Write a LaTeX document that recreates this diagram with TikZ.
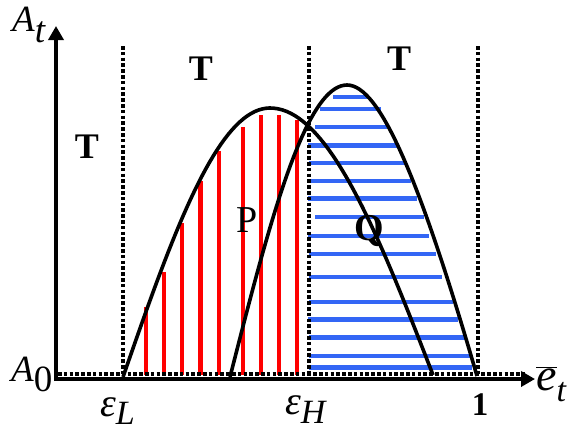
\documentclass[tikz,border=0pt]{standalone}
\usepackage{fontspec}
\setmainfont{Liberation Serif}
\usetikzlibrary{arrows.meta}
\definecolor{hred}{RGB}{255,0,0}
\definecolor{hblue}{RGB}{51,102,245}
\begin{document}
\begin{tikzpicture}[x=1pt,y=-1pt,
  axisline/.style={line width=4.2pt,-{Triangle[length=14pt,width=15pt]}},
  dotline/.style={line width=4pt,dash pattern=on 3.6pt off 2.2pt},
  curveline/.style={line width=3.6pt},
  redbar/.style={hred},
  bluebar/.style={hblue},
  lbl/.style={inner sep=0pt},
  mlbl/.style={inner sep=0pt,font=\fontsize{37}{37}\selectfont\itshape}]
\useasboundingbox (0,0) rectangle (569,432);
% coordinates
\coordinate (O) at (56,379);
\coordinate (ytip) at (56,26);
\coordinate (xtip) at (535,379);
% red bars
\foreach \x/\t/\w in {146/307/4.6,164.3/272/3.8,182.3/223/3.8,200.7/181/4.6,219/151/4.6,242.7/127/3.8,261/115/4.6,279/115/4.6,297/120/4.6}
  \draw[redbar,line width=\w pt] (\x,375) -- (\x,\t);
% blue bars
\foreach \y/\a/\b/\w in {96.7/333/369/3.8,109/320/381/4.4,126.7/315/387/4.4,145.3/308/399/4.4,163/309/406/4.4,180.7/308/411/4.4,198.3/308/417/4.4,217/315/424/3.8,235.7/308/429/4.4,253.7/309/436/4.4,277.3/309/442/3.8,301.7/309/453/4.4,319.3/308/458/4.4,337.3/309/466/4.4,355.7/309/472/4.4,367.3/309/472/4.4}
  \draw[bluebar,line width=\w pt] (\a,\y) -- (\b,\y);
% curve P
\draw[curveline] plot[domain=0:90,samples=40] ({123+147*\x/90},{377-269*sin(\x)})
  -- plot[domain=0:90,samples=40] ({270+163*\x/90},{375-267*cos(\x)});
% curve Q
\draw[curveline] plot[domain=0:90,samples=40] ({230+117*\x/90},{377-292*sin(\x)})
  .. controls (380,85) and (420,180) .. (477,376);
% dotted lines
\draw[dotline] (123,46) -- (123,377);
\draw[dotline] (309,46) -- (309,377);
\draw[dotline] (478,46) -- (478,377);
\draw[dotline] (58,374) -- (525,374);
% axes
\draw[axisline] (O) ++(0,2) -- (ytip);
\draw[axisline] (O) ++(-2,0) -- (xtip);
% labels
\node[lbl,font=\fontsize{36}{36}\selectfont\bfseries] (T1) at (87,147) {T};
\node[lbl,font=\fontsize{36}{36}\selectfont\bfseries] (T2) at (201,69) {T};
\node[lbl,font=\fontsize{36}{36}\selectfont\bfseries] (T3) at (399,59) {T};
\node[lbl,font=\fontsize{38}{38}\selectfont] (P) at (247,220) {P};
\node[lbl,font=\fontsize{38}{38}\selectfont\bfseries] (Q) at (369,231) {Q};
\node[mlbl,anchor=base west] (At) at (12,31) {A\raisebox{-0.32em}{t}};
\node[mlbl,anchor=base west] (A0) at (11,381) {A\raisebox{-0.28em}{\upshape 0}};
\node[mlbl,anchor=base west,font=\fontsize{40}{40}\selectfont\itshape] (eL) at (100,416) {ε\raisebox{-0.2em}{\fontsize{34}{34}\selectfont L}};
\node[mlbl,anchor=base west,font=\fontsize{40}{40}\selectfont\itshape] (eH) at (285,414) {ε\raisebox{-0.24em}{\fontsize{34}{34}\selectfont H}};
\node[lbl,font=\fontsize{33}{33}\selectfont\bfseries] (one) at (480,405) {1};
\node[mlbl,anchor=base west,font=\fontsize{46}{46}\selectfont\itshape] (et) at (536,390) {$\overline{\mbox{e}}$\raisebox{-0.26em}{\fontsize{34}{34}\selectfont t}};
\end{tikzpicture}
\end{document}
